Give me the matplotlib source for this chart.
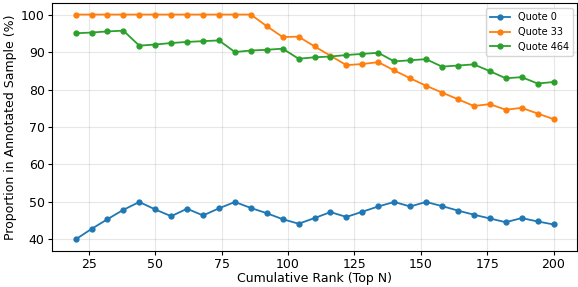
import numpy as np
import matplotlib.pyplot as plt

top_n = list(range(20, 201, 6))

quote_0 = [40.0, 42.8, 45.4, 47.9, 50.0, 48.0, 46.2, 48.2, 46.4, 48.3, 50.0,
           48.4, 47.0, 45.4, 44.2, 45.7, 47.3, 46.0, 47.4, 48.8, 50.0, 48.8,
           50.0, 48.9, 47.7, 46.6, 45.6, 44.6, 45.7, 44.8, 44.0]
quote_33 = [100, 100, 100, 100, 100, 100, 100, 100, 100, 100, 100, 100,
            96.9, 94.0, 94.1, 91.5, 89.0, 86.5, 86.8, 87.3, 85.1, 83.0, 81.0,
            79.2, 77.4, 75.6, 76.1, 74.6, 75.1, 73.6, 72.1]
quote_464 = [95.0, 95.2, 95.5, 95.7, 91.7, 92.0, 92.4, 92.7, 92.9, 93.1, 90.0,
             90.4, 90.6, 90.9, 88.2, 88.6, 88.8, 89.2, 89.5, 89.8, 87.5, 87.8,
             88.1, 86.1, 86.4, 86.7, 84.9, 83.0, 83.3, 81.6, 82.0]

series = [("Quote 0", quote_0), ("Quote 33", quote_33), ("Quote 464", quote_464)]

fig, ax = plt.subplots(figsize=(5.78, 2.87), dpi=100)
for label, vals in series:
    ax.plot(top_n, vals, marker="o", markersize=3.5, linewidth=1.3, label=label)

ax.set_xlabel("Cumulative Rank (Top N)", fontsize=9, labelpad=1)
ax.set_ylabel("Proportion in Annotated Sample (%)", fontsize=9, labelpad=3)
ax.tick_params(labelsize=9, length=3, pad=2)
ax.grid(True, alpha=0.3)
ax.legend(loc="upper right", fontsize=7)

fig.subplots_adjust(left=0.0894, right=0.999, bottom=0.1265, top=0.9885)
fig.savefig("out.png", dpi=100)
